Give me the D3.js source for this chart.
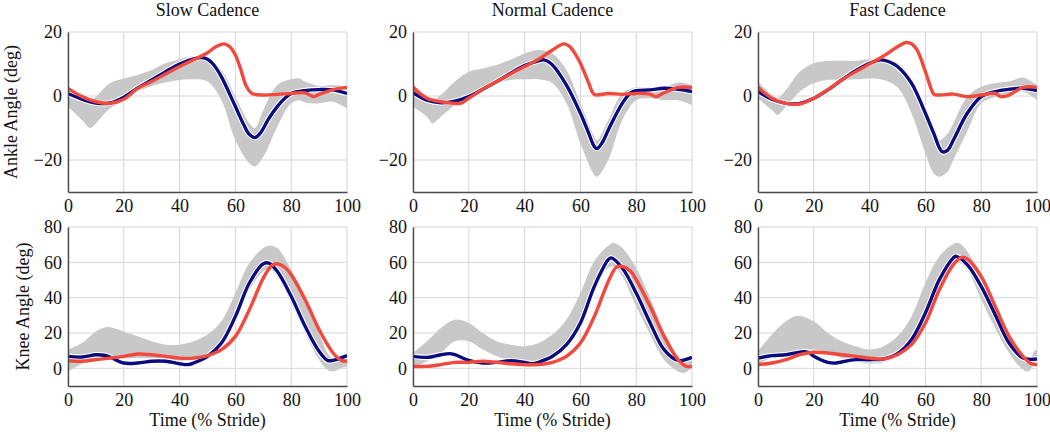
<!DOCTYPE html>
<html>
<head>
<meta charset="utf-8">
<script src="https://cdn.jsdelivr.net/npm/d3@7"></script>
<style>
  html, body { margin: 0; padding: 0; background: #fff; }
  svg { display: block; }
  text { font-family: "Liberation Serif", "Times New Roman", serif; fill: #111; }
</style>
</head>
<body>
<svg id="chart" width="1050" height="432"></svg>
<script>
// ---------- DATA ----------
const titles = ["Slow Cadence", "Normal Cadence", "Fast Cadence"];
const rowLabels = ["Ankle Angle (deg)", "Knee Angle (deg)"];
const xLabel = "Time (% Stride)";
const xTicks = [0, 20, 40, 60, 80, 100];
const ankleTicks = [-20, 0, 20];
const kneeTicks = [0, 20, 40, 60, 80];
const ankleDomain = [-30, 20];
const kneeDomain = [-10, 80];

// Slow cadence – ankle
const slowAnkleBandX  = [0,5,8,10,15,20,25,30,35,40,45,50,55,60,65,67,70,75,80,83,85,90,95,100];
const slowAnkleBandHi = [3.1,-0.7,-1.3,-0.2,4,5.5,6.6,8.1,10.2,11.5,12.5,11.8,8.1,-0.2,-8.5,-10,-4.4,3.4,5.2,5.5,4.5,3.1,3.4,2.7];
const slowAnkleBandLo = [-3.3,-7.5,-10,-8.5,-3.9,-1.3,1.4,3.1,4.2,5,5.2,4.5,-1.3,-13.8,-21,-22,-19,-9.6,-2.3,-1.3,-2,-2.3,-1.8,-3.9];
const slowAnkleBlue = [[0,0.8],[5,-1],[10,-2.2],[15,-2.2],[20,-0.4],[25,2.5],[30,5],[35,7.6],[40,10],[45,11.6],[48,12],[50,11.5],[52,10],[55,6],[58,0.5],[60,-3.3],[63,-9],[65,-12],[67,-13],[69,-11.5],[72,-7],[75,-3.3],[78,-0.5],[80,0.8],[85,1.7],[90,2],[95,1.9],[100,0.8]];
const slowAnkleRed = [[0,2.4],[5,-0.2],[10,-1.8],[15,-2.3],[20,-1],[25,2.4],[30,4.5],[35,6.9],[40,9.2],[45,11.3],[50,13.5],[53,15.4],[56,16.3],[58,15.4],[60,12.8],[62,8.1],[64,2.9],[66,0.8],[70,0.3],[75,0.5],[80,0.8],[85,1],[88,-0.2],[90,0.5],[95,2],[100,2.7]];

// Normal cadence – ankle
const normAnkleBandX  = [0,5,7,10,15,20,25,30,35,40,45,50,55,60,65,66,70,75,80,85,90,95,100];
const normAnkleBandHi = [4,-0.7,-1.2,0.3,4.5,7.6,8.6,9.7,11.3,13.3,14.4,13.3,8.1,-2.3,-12.7,-13.8,-7.5,0.8,2.7,2.7,2.7,4.2,3.4];
const normAnkleBandLo = [-3.3,-6.5,-8.5,-6.5,-2.8,-0.2,2.4,4,5,5.2,5.2,4,-2.3,-14.8,-24.7,-25.2,-20,-7.5,-1.3,-0.7,-1.3,-1.3,-2.8];
const normAnkleBlue = [[0,1],[5,-1.3],[10,-2.1],[15,-1.6],[20,-0.2],[25,2.1],[30,4.5],[35,7.1],[40,9.5],[45,11],[47,11.3],[50,9.7],[55,3.4],[60,-5.4],[63,-11.7],[65,-15.8],[66,-16.4],[68,-14.3],[70,-10.6],[75,-2.3],[78,1],[80,1.7],[85,1.9],[90,2.4],[95,2.1],[100,1.4]];
const normAnkleRed = [[0,2.7],[5,-0.7],[10,-1.8],[15,-2.3],[17,-2.3],[20,-0.7],[25,2.1],[30,4.5],[35,6.9],[40,9.2],[45,11.5],[50,14.4],[54,16.3],[56,15.6],[58,13.3],[60,10.2],[63,4],[65,0.5],[70,0.8],[75,0.5],[80,0.8],[85,0.6],[87,-0.2],[90,1],[95,2.7],[100,2.7]];

// Fast cadence – ankle
const fastAnkleBandX  = [0,5,7,10,15,20,25,30,35,40,45,50,55,60,63,65,68,70,75,80,85,90,95,100];
const fastAnkleBandHi = [4.5,0.3,-0.7,1.9,7.6,10.2,10.9,11,11,11.5,11.5,10.4,5.5,-4.4,-11.1,-13.8,-11.7,-8.5,-0.2,2.9,4,4.5,5.8,3.4];
const fastAnkleBandLo = [-0.7,-4.4,-5.9,-3.3,1.4,4,5,5,5.2,5.5,5,2.7,-5.4,-17.9,-24.2,-25.2,-23.6,-20,-11.1,-2.3,-0.2,0.6,1.4,-1.3];
const fastAnkleBlue = [[0,1.4],[5,-1],[10,-2.3],[15,-2.3],[20,-0.7],[25,1.9],[30,5],[35,7.9],[40,10.2],[44,11.3],[47,10.7],[50,9.2],[55,4],[60,-5.4],[63,-11.7],[66,-17.4],[68,-16.9],[70,-13.8],[75,-5.4],[80,-0.2],[85,1.4],[90,2.1],[95,2.4],[100,1.7]];
const fastAnkleRed = [[0,2.7],[5,-0.7],[10,-2.3],[15,-2.5],[20,-0.7],[25,1.9],[30,5],[35,7.6],[40,10],[45,12.5],[50,15.4],[53,16.7],[55,16.3],[57,14.4],[60,7.6],[62,2.4],[63,0.6],[65,0.3],[70,0.6],[75,-0.2],[80,0.3],[85,0.8],[87,-0.2],[90,0.3],[95,2.7],[100,2.7]];

// Slow cadence – knee
const slowKneeBandX  = [0,5,10,14,20,25,30,35,40,45,50,55,60,65,70,72,75,80,85,90,93,95,98,100];
const slowKneeBandHi = [10.6,14.3,20.9,23.4,20.9,18.1,15.3,13.4,13.4,15.3,19.1,26.6,42.6,59.6,68.1,69.4,68.1,55.8,39.8,20,8.7,5.8,7.7,8.7];
const slowKneeBandLo = [-1.7,2.6,5.8,6.8,5.8,5.8,5.8,5.3,4.5,4.9,6.8,13.4,27.5,44.5,54.9,56.2,52.1,37,20,4.9,-0.8,-1.7,0.2,1.1];
const slowKneeBlue = [[0,6.8],[5,6.4],[10,7.7],[13,7.4],[15,6.4],[20,3],[25,3],[30,4],[35,4],[40,2.6],[43,2.1],[45,3],[50,6.8],[55,14.3],[60,29.4],[65,48.3],[70,59.2],[72,59.6],[75,54.9],[80,40.8],[85,23.8],[90,9.6],[93,4.5],[95,4.5],[100,7.2]];
const slowKneeRed = [[0,4.3],[5,4],[10,4.9],[15,5.8],[20,6.8],[25,8.1],[30,7.7],[35,6.8],[40,5.8],[45,5.8],[50,7.2],[55,10.6],[60,18.1],[65,33.2],[70,51.1],[73,58.1],[75,59.2],[78,56.8],[80,53],[85,38.9],[90,21.9],[95,8.7],[98,4.5],[100,4]];

// Normal cadence – knee
const normKneeBandX  = [0,5,10,15,20,25,30,35,40,45,50,55,60,65,70,72,75,80,85,90,95,97,100];
const normKneeBandHi = [8.7,15.3,22.8,27.5,25.7,20,15.3,13.4,12.5,14.3,19.1,27.5,42.6,60.6,69.4,70.9,68.1,56.8,39.8,20.9,6.8,4,6.8];
const normKneeBandLo = [0.2,4,8.7,15.3,15.3,10.6,6.8,4,2.6,2.6,6.8,14.3,27.5,46.4,56.8,57.7,52.1,35.1,19.1,4.9,-1.7,-2.6,0.2];
const normKneeBlue = [[0,6.8],[5,6.2],[10,7.7],[13,8.3],[15,7.7],[20,4.5],[25,3],[30,3.4],[35,4.3],[40,3.4],[43,2.6],[45,3.4],[50,6.8],[55,13.4],[60,25.7],[65,46.4],[70,61.5],[71,62.5],[75,56.8],[80,42.6],[85,25.7],[90,10.6],[95,4.5],[100,6.2]];
const normKneeRed = [[0,1.1],[5,1.1],[10,2.1],[15,3.4],[20,3.4],[25,4],[30,3.4],[35,2.6],[40,2.1],[45,2.1],[50,3.4],[55,6.8],[60,14.3],[65,29.4],[70,49.2],[73,57.4],[75,57.7],[78,54.9],[80,50.2],[85,35.1],[90,18.1],[95,4.9],[98,1.1],[100,1.1]];

// Fast cadence – knee
const fastKneeBandX  = [0,5,10,14,20,25,30,35,40,45,50,55,60,65,70,72,75,80,85,90,95,97,99,100];
const fastKneeBandHi = [9.6,19.1,26.6,29.8,26.6,20,15.3,12.5,10.6,12.5,18.1,29.4,48.3,63.4,70.4,70.9,66.2,52.1,35.1,18.1,4.9,3,9.6,10.6];
const fastKneeBandLo = [2.6,5.8,7.7,9.6,10.6,8.7,5.8,4,2.6,3.4,6.8,14.3,29.4,46.4,57.7,59.6,55.8,38.9,22.8,8.7,-0.8,-1.7,2.6,4];
const fastKneeBlue = [[0,5.8],[5,7.2],[10,7.7],[15,9.2],[18,9.1],[20,6.8],[25,3.4],[28,3],[30,3.6],[35,4.9],[40,4.9],[45,5.3],[50,8.3],[55,16.2],[60,31.3],[65,50.2],[70,62.5],[71,63.4],[75,58.7],[80,46.4],[85,30.4],[90,14.3],[95,5.8],[100,5.3]];
const fastKneeRed = [[0,2.1],[5,3],[10,4.9],[15,7.7],[20,9.1],[25,8.7],[30,7.7],[35,6.8],[40,5.8],[45,5.3],[50,7.7],[55,13.4],[60,25.7],[65,44.5],[70,58.7],[73,62.8],[75,61.9],[80,52.1],[85,35.1],[90,18.1],[95,6.8],[98,2.6],[100,2.1]];

// ---------- LAYOUT / STYLE ----------
const colLeft = [68, 413, 758];
const plotW = 279;
const rows = [
  { top: 32, bottom: 192, domain: ankleDomain, ticks: ankleTicks },
  { top: 227, bottom: 386, domain: kneeDomain, ticks: kneeTicks }
];
const BAND = "#c8c8c8", BLUE = "#0b0b80", RED = "#f2493e", GRID = "#d6d6d6", AXIS = "#4a4a4a";
const FS = 18;

const panels = [
  [0,0, slowAnkleBandX, slowAnkleBandLo, slowAnkleBandHi, slowAnkleBlue, slowAnkleRed],
  [0,1, normAnkleBandX, normAnkleBandLo, normAnkleBandHi, normAnkleBlue, normAnkleRed],
  [0,2, fastAnkleBandX, fastAnkleBandLo, fastAnkleBandHi, fastAnkleBlue, fastAnkleRed],
  [1,0, slowKneeBandX, slowKneeBandLo, slowKneeBandHi, slowKneeBlue, slowKneeRed],
  [1,1, normKneeBandX, normKneeBandLo, normKneeBandHi, normKneeBlue, normKneeRed],
  [1,2, fastKneeBandX, fastKneeBandLo, fastKneeBandHi, fastKneeBlue, fastKneeRed]
];

const svg = d3.select("#chart");
const fmt = d3.format("");

panels.forEach(([r, c, bx, blo, bhi, blue, red], i) => {
  const row = rows[r];
  const x = d3.scaleLinear().domain([0, 100]).range([colLeft[c], colLeft[c] + plotW]);
  const y = d3.scaleLinear().domain(row.domain).range([row.bottom, row.top]);
  const g = svg.append("g");

  const clipId = "clip" + i;
  svg.append("clipPath").attr("id", clipId).append("rect")
    .attr("x", x(0)).attr("y", row.top - 1).attr("width", plotW).attr("height", row.bottom - row.top + 1);

  // grid
  g.append("g").selectAll("line").data(xTicks).join("line")
    .attr("x1", d => x(d)).attr("x2", d => x(d)).attr("y1", row.top).attr("y2", row.bottom)
    .attr("stroke", GRID).attr("stroke-width", 1);
  const hTicks = row.ticks.concat([row.domain[1]]).filter((v, k, a) => a.indexOf(v) === k);
  g.append("g").selectAll("line").data(hTicks).join("line")
    .attr("x1", x(0)).attr("x2", x(100)).attr("y1", d => y(d)).attr("y2", d => y(d))
    .attr("stroke", GRID).attr("stroke-width", 1);

  const plot = g.append("g").attr("clip-path", `url(#${clipId})`);
  // band
  const bandData = bx.map((v, k) => ({ x: v, lo: blo[k], hi: bhi[k] }));
  plot.append("path").datum(bandData)
    .attr("d", d3.area().x(d => x(d.x)).y0(d => y(d.lo)).y1(d => y(d.hi)).curve(d3.curveCatmullRom.alpha(0.5)))
    .attr("fill", BAND);

  const line = d3.line().x(d => x(d[0])).y(d => y(d[1])).curve(d3.curveCatmullRom.alpha(0.5));
  plot.append("path").datum(blue).attr("d", line).attr("fill", "none")
    .attr("stroke", "#fff").attr("stroke-width", 5.5).attr("stroke-linejoin", "round");
  plot.append("path").datum(blue).attr("d", line).attr("fill", "none")
    .attr("stroke", BLUE).attr("stroke-width", 3.4).attr("stroke-linejoin", "round");
  plot.append("path").datum(red).attr("d", line).attr("fill", "none")
    .attr("stroke", RED).attr("stroke-width", 3.4).attr("stroke-linejoin", "round");

  // axes
  const xAxis = d3.axisBottom(x).tickValues(xTicks).tickSize(0).tickPadding(7).tickFormat(fmt);
  const xg = g.append("g").attr("transform", `translate(0,${row.bottom})`).call(xAxis);
  const yAxis = d3.axisLeft(y).tickValues(row.ticks).tickSize(0).tickPadding(6).tickFormat(fmt);
  const yg = g.append("g").attr("transform", `translate(${x(0)},0)`).call(yAxis);
  [xg, yg].forEach(a => {
    a.select(".domain").attr("stroke", AXIS).attr("stroke-width", 1.4);
    a.selectAll("text").attr("font-size", FS).attr("font-family", "Liberation Serif").attr("fill", "#111");
  });

  if (r === 0) {
    svg.append("text").attr("x", x(50)).attr("y", 16).attr("text-anchor", "middle")
      .attr("font-size", FS).text(titles[c]);
  } else {
    svg.append("text").attr("x", x(50)).attr("y", 426).attr("text-anchor", "middle")
      .attr("font-size", FS).text(xLabel);
  }
});

// row labels
svg.append("text").attr("transform", `translate(16.5,${(rows[0].top + rows[0].bottom) / 2}) rotate(-90)`)
  .attr("text-anchor", "middle").attr("font-size", FS).text(rowLabels[0]);
svg.append("text").attr("transform", `translate(29,${(rows[1].top + rows[1].bottom) / 2}) rotate(-90)`)
  .attr("text-anchor", "middle").attr("font-size", FS).text(rowLabels[1]);
</script>
</body>
</html>
